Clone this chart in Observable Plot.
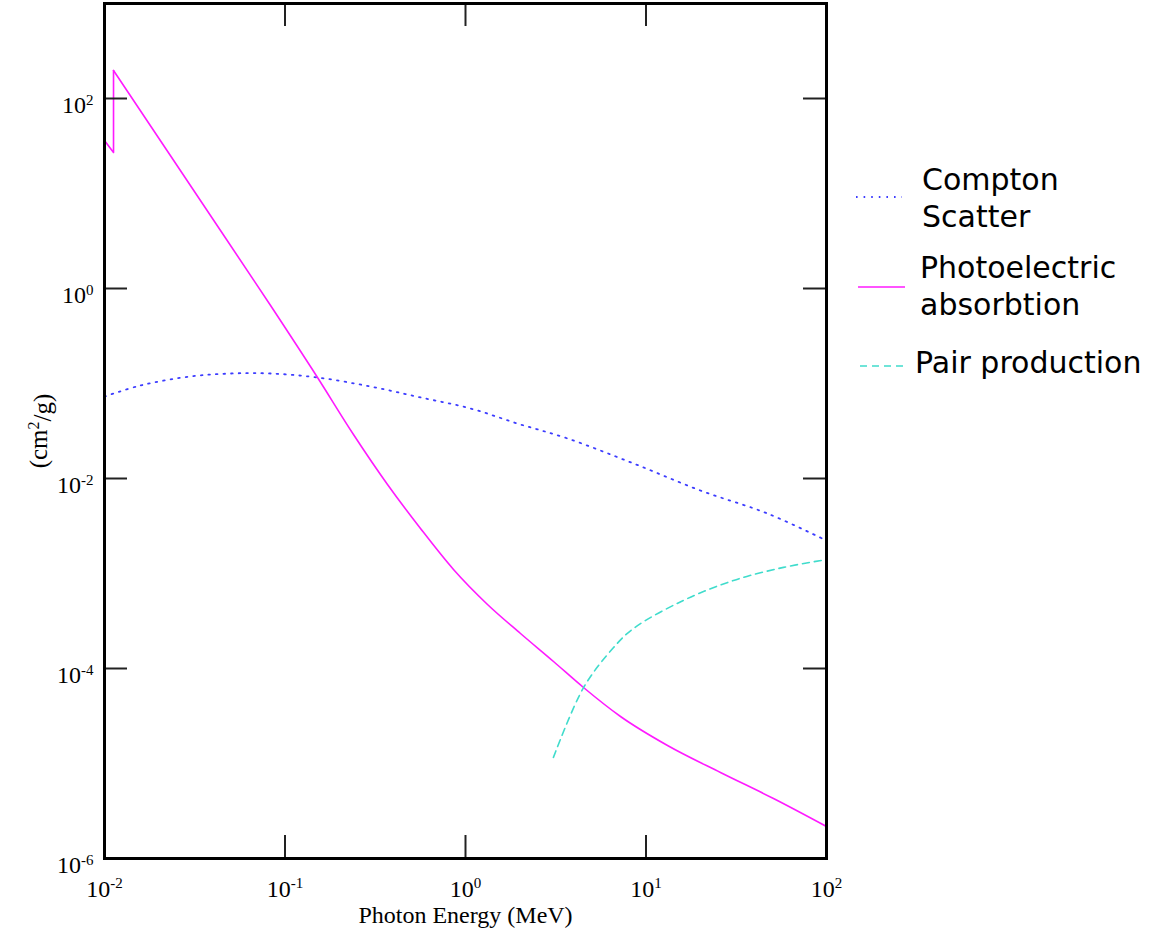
<!DOCTYPE html>
<html><head><meta charset="utf-8">
<script src="https://cdn.jsdelivr.net/npm/d3@7"></script>
<script src="https://cdn.jsdelivr.net/npm/@observablehq/plot@0.6"></script>
<style>
body{margin:0;background:#fff;}
#wrap{position:relative;width:1170px;height:938px;overflow:hidden;}
#wrap > svg{position:absolute;left:0;top:0;}
.leg{position:absolute;font-family:"DejaVu Sans",sans-serif;font-size:30px;line-height:37px;color:#000;white-space:nowrap;}
.sw{position:absolute;}
</style></head><body><div id="wrap"></div>
<script>
// ---- data (Photon Energy in MeV, cross-section in cm^2/g) ----
const comptonE = [0.01, 0.0158, 0.0299, 0.0499, 0.0832, 0.151, 0.298, 0.564, 1.066, 1.94, 3.67, 8.53, 20.0, 47.1, 100];
const comptonV = [0.0729, 0.0953, 0.1185, 0.1274, 0.1274, 0.1156, 0.0929, 0.0713, 0.0546, 0.0379, 0.0264, 0.0144, 0.00748, 0.00428, 0.00222];

const photoE = [0.01, 0.01122, 0.01122, 0.0340, 0.0832, 0.1514, 0.2395, 0.3697, 0.5632, 0.858, 1.324, 2.017, 3.073, 4.505, 7.224, 13.16, 25.86, 50.86, 100];
const photoV = [36.1, 27.0, 197, 8.43, 0.662, 0.1157, 0.02905, 0.00865, 0.002977, 0.001102, 4.72e-4, 2.335e-4, 1.185e-4, 6.31e-5, 3.125e-5, 1.547e-5, 8.04e-6, 4.28e-6, 2.172e-6];

const pairE = [3.07, 4.51, 6.61, 8.53, 16.1, 30.5, 57.8, 100];
const pairV = [1.16e-5, 6.3e-5, 1.66e-4, 2.64e-4, 5.2e-4, 8.44e-4, 1.16e-3, 1.40e-3];

const xTicks = [1e-2, 1e-1, 1, 10, 100];
const yTicks = [1e-6, 1e-4, 1e-2, 1, 100];
const xLabel = "Photon Energy (MeV)";
const yLabel = "(cm²/g)";
const legendNames = [["Compton", "Scatter"], ["Photoelectric", "absorbtion"], ["Pair production"]];

// ---- build tables ----
const compton = comptonE.map((E, i) => ({E, v: comptonV[i]}));
const photo = photoE.map((E, i) => ({E, v: photoV[i]}));
const photoEdge = photo.slice(0, 3);
const photoMain = photo.slice(2);
const pair = pairE.map((E, i) => ({E, v: pairV[i]}));

const W = 1170, H = 938, mL = 104, mR = 344, mT = 3, mB = 80;
const innerW = W - mL - mR, innerH = H - mT - mB;
const tickLen = 23;

const colCompton = "#3c3cff", colPhoto = "#ff1aff", colPair = "#40dccc";
const dashCompton = "1.6,6", dashPair = "7,5";

const expFmt = d => "10^" + Math.round(Math.log10(d));

const chart = Plot.plot({
  width: W, height: H,
  marginLeft: mL, marginRight: mR, marginTop: mT, marginBottom: mB,
  style: {fontFamily: "'Liberation Serif', 'Times New Roman', serif", fontSize: "24px", background: "#fff", color: "#000", overflow: "visible"},
  x: {type: "log", domain: [1e-2, 1e2]},
  y: {type: "log", domain: [1e-6, 1e3]},
  marks: [
    Plot.line(compton, {x: "E", y: "v", stroke: colCompton, strokeWidth: 1.8, strokeDasharray: dashCompton, curve: "catmull-rom", clip: true}),
    Plot.line(photoEdge, {x: "E", y: "v", stroke: colPhoto, strokeWidth: 1.6, curve: "linear", clip: true}),
    Plot.line(photoMain, {x: "E", y: "v", stroke: colPhoto, strokeWidth: 1.6, curve: "monotone-x", clip: true}),
    Plot.line(pair, {x: "E", y: "v", stroke: colPair, strokeWidth: 1.6, strokeDasharray: dashPair, curve: "catmull-rom", clip: true}),
    // inward ticks on all four sides
    Plot.tickX(xTicks, {x: d => d, insetTop: innerH - tickLen, stroke: "#222", strokeWidth: 2}),
    Plot.tickX(xTicks, {x: d => d, insetBottom: innerH - tickLen, stroke: "#222", strokeWidth: 2}),
    Plot.tickY(yTicks, {y: d => d, insetRight: innerW - tickLen, stroke: "#222", strokeWidth: 2}),
    Plot.tickY(yTicks, {y: d => d, insetLeft: innerW - tickLen, stroke: "#222", strokeWidth: 2}),
    Plot.axisX({ticks: xTicks, tickSize: 0, tickPadding: 21, tickFormat: expFmt, label: null, fontSize: 24}),
    Plot.axisY({ticks: yTicks, tickSize: 0, tickPadding: 11, dy: 7, tickFormat: expFmt, label: null, fontSize: 24}),
    Plot.text([xLabel], {text: d => d, frameAnchor: "bottom", dy: 64, fontSize: 24}),
    Plot.text([yLabel], {text: d => d, frameAnchor: "left", textAnchor: "middle", dx: -66, rotate: -90, fontSize: 25, ariaLabel: "y-label"}),
    Plot.frame({stroke: "#000", strokeWidth: 3})
  ]
});

const svgNS = "http://www.w3.org/2000/svg";
// superscript exponents on tick labels
chart.querySelectorAll('g[aria-label*="tick label"] text').forEach(t => {
  const parts = t.textContent.split("^");
  if (parts.length < 2) return;
  t.textContent = parts[0];
  const ts = document.createElementNS(svgNS, "tspan");
  ts.setAttribute("dy", "-0.55em");
  ts.setAttribute("font-size", "15");
  ts.textContent = parts[1];
  t.appendChild(ts);
});
// superscript "2" in the y-axis unit label
chart.querySelectorAll('text').forEach(t => {
  if (t.textContent !== yLabel) return;
  const [a, b] = yLabel.split("²");
  t.textContent = a;
  const s1 = document.createElementNS(svgNS, "tspan");
  s1.setAttribute("dy", "-0.45em"); s1.setAttribute("font-size", "16"); s1.textContent = "2";
  const s2 = document.createElementNS(svgNS, "tspan");
  s2.setAttribute("dy", "0.45em"); s2.textContent = b;
  t.appendChild(s1); t.appendChild(s2);
});

const wrap = document.getElementById("wrap");
wrap.appendChild(chart);

// ---- legend (to the right of the frame) ----
const legendItems = [
  {lines: legendNames[0], stroke: colCompton, dash: dashCompton, w: 1.8, top: 161, sx: 856, sw: 46, sy: 197, tx: 922},
  {lines: legendNames[1], stroke: colPhoto, dash: null, w: 1.6, top: 249, sx: 858, sw: 47, sy: 287, tx: 920},
  {lines: legendNames[2], stroke: colPair, dash: dashPair, w: 1.6, top: 344, sx: 860, sw: 45, sy: 366, tx: 915}
];
for (const it of legendItems) {
  const s = document.createElementNS(svgNS, "svg");
  s.setAttribute("class", "sw");
  s.setAttribute("width", it.sw);
  s.setAttribute("height", 10);
  s.style.left = it.sx + "px";
  s.style.top = (it.sy - 5) + "px";
  const l = document.createElementNS(svgNS, "line");
  l.setAttribute("x1", 0); l.setAttribute("x2", it.sw);
  l.setAttribute("y1", 5); l.setAttribute("y2", 5);
  l.setAttribute("stroke", it.stroke);
  l.setAttribute("stroke-width", it.w);
  if (it.dash) l.setAttribute("stroke-dasharray", it.dash);
  s.appendChild(l);
  wrap.appendChild(s);
  const d = document.createElement("div");
  d.className = "leg";
  d.style.left = it.tx + "px";
  d.style.top = it.top + "px";
  d.innerHTML = it.lines.map(x => `<div>${x}</div>`).join("");
  wrap.appendChild(d);
}
</script></body></html>
